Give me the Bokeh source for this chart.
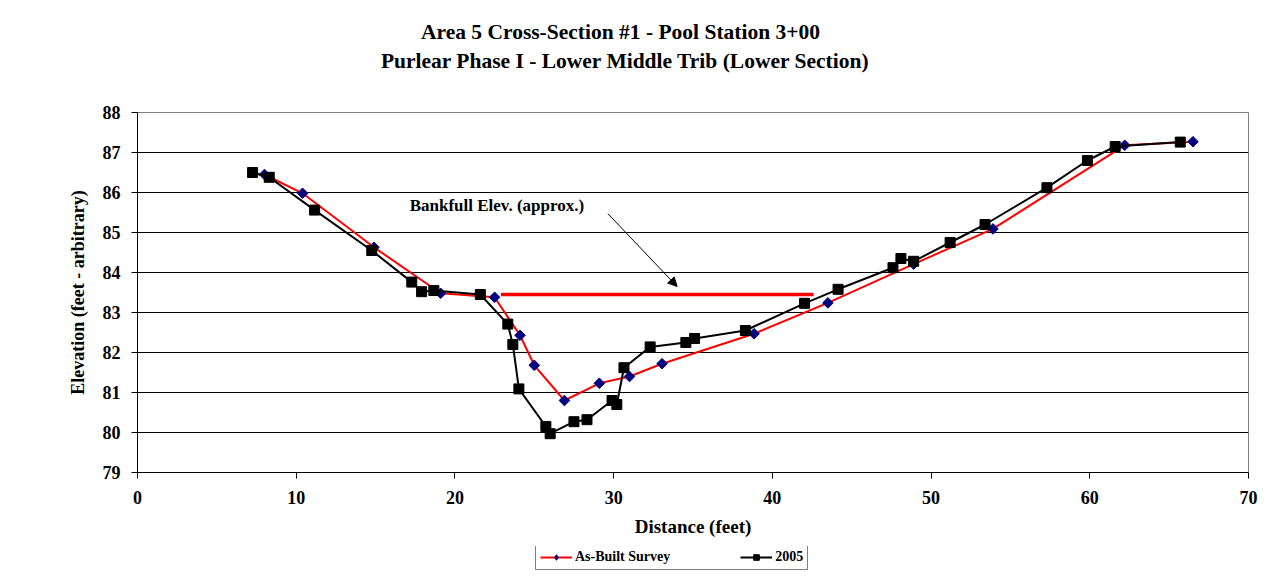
import math
from bokeh.plotting import figure
from bokeh.layouts import column
from bokeh.models import (FixedTicker, Range1d, Legend, LegendItem, Arrow,
                          NormalHead, Label)
from bokeh.embed import file_html
from bokeh.resources import INLINE

# ---------------- data ----------------
asbuilt_x = [8.0, 10.4, 14.9, 19.1, 22.5, 24.1, 25.0, 26.9, 29.1, 31.0, 33.05,
             38.85, 43.5, 48.9, 53.9, 62.2, 66.5]
asbuilt_y = [86.45, 85.98, 84.63, 83.48, 83.38, 82.43, 81.68, 80.8, 81.23, 81.4,
             81.72, 82.47, 83.24, 84.21, 85.09, 87.18, 87.27]

survey2005_x = [7.25, 8.3, 11.16, 14.76, 17.28, 17.9, 18.67, 21.6, 23.33, 23.65,
                24.03, 25.73, 26.0, 27.5, 28.32, 29.9, 30.2, 30.65, 32.3, 34.55,
                35.1, 38.3, 42.03, 44.14, 47.6, 48.1, 48.9, 51.2, 53.4, 57.3,
                59.85, 61.6, 65.7]
survey2005_y = [86.5, 86.38, 85.56, 84.55, 83.76, 83.52, 83.55, 83.45, 82.71, 82.2,
                81.09, 80.15, 79.97, 80.27, 80.32, 80.8, 80.7, 81.62, 82.14, 82.25,
                82.35, 82.55, 83.23, 83.58, 84.12, 84.35, 84.28, 84.75, 85.2, 86.12,
                86.8, 87.15, 87.26]

bankfull_x = [22.9, 42.6]
bankfull_y = [83.45, 83.45]

note_text = "Bankfull Elev. (approx.)"
note_pos = (17.15, 85.68)
arrow_start = (29.64, 85.47)
arrow_end = (34.0, 83.65)

x_ticks = [0, 10, 20, 30, 40, 50, 60, 70]
y_ticks = [79, 80, 81, 82, 83, 84, 85, 86, 87, 88]

title_lines = ["Area 5 Cross-Section #1 - Pool Station 3+00",
               "Purlear Phase I - Lower Middle Trib (Lower Section)"]
title_centers = [(620, 31), (625, 60)]   # pixel positions in the title strip

series_labels = ["As-Built Survey", "2005"]

FONT = "Liberation Serif"
W = 1261
TITLE_H = 80
MAIN_H = 466
LEGEND_H = 26
FRAME_L, FRAME_R = 137, 1248

# ---------------- title strip ----------------
pt = figure(width=W, height=TITLE_H, x_range=Range1d(FRAME_L, FRAME_R),
            y_range=Range1d(TITLE_H, 0),
            output_backend="svg", toolbar_location=None, title_location=None,
            x_axis_location=None, y_axis_location=None, min_border=0)
pt.outline_line_color = None
pt.grid.grid_line_color = None
for txt, (cx, cy) in zip(title_lines, title_centers):
    pt.add_layout(Label(x=cx, y=cy, text=txt, text_font=FONT, text_font_style="bold",
                        text_font_size="21.5px", text_color="black",
                        text_align="center", text_baseline="middle"))

# ---------------- main chart ----------------
p = figure(width=W, height=MAIN_H, x_range=Range1d(0, 70), y_range=Range1d(79, 88),
           output_backend="svg", toolbar_location=None, title_location=None,
           min_border_left=FRAME_L, min_border_right=W - FRAME_R,
           min_border_top=112 - TITLE_H, min_border_bottom=74)

p.background_fill_color = "white"
p.border_fill_color = "white"
p.outline_line_color = "#808080"
p.outline_line_width = 1

p.xgrid.grid_line_color = None
p.ygrid.grid_line_color = "black"
p.ygrid.grid_line_width = 1
p.ygrid.ticker = FixedTicker(ticks=y_ticks)

for ax in (p.xaxis[0], p.yaxis[0]):
    ax.axis_line_color = "black"
    ax.axis_line_width = 1
    ax.major_tick_line_color = "black"
    ax.major_tick_out = 6
    ax.major_tick_in = 0
    ax.minor_tick_line_color = None
    ax.major_label_text_font = FONT
    ax.major_label_text_font_style = "bold"
    ax.major_label_text_font_size = "18px"
    ax.major_label_text_color = "black"
    ax.axis_label_text_font = FONT
    ax.axis_label_text_font_style = "bold"
    ax.axis_label_text_color = "black"

p.xaxis.ticker = FixedTicker(ticks=x_ticks)
p.yaxis.ticker = FixedTicker(ticks=y_ticks)
p.xaxis.axis_label = "Distance (feet)"
p.yaxis.axis_label = "Elevation (feet - arbitrary)"
p.xaxis.axis_label_text_font_size = "19px"
p.yaxis.axis_label_text_font_size = "18px"
p.xaxis.major_label_standoff = 12
p.xaxis.axis_label_standoff = 9
p.yaxis.major_label_standoff = 11
p.yaxis.axis_label_standoff = 12

p.line(bankfull_x, bankfull_y, line_color="#FF0000", line_width=3.5)

p.line(asbuilt_x, asbuilt_y, line_color="#FF0000", line_width=2)
p.scatter(asbuilt_x, asbuilt_y, marker="square", angle=math.pi / 4,
          size=7.5, fill_color="#000080", line_color="#000080")

p.line(survey2005_x, survey2005_y, line_color="black", line_width=2)
p.scatter(survey2005_x, survey2005_y, marker="square", size=10,
          fill_color="black", line_color="black")

p.add_layout(Label(x=note_pos[0], y=note_pos[1], text=note_text,
                   text_font=FONT, text_font_style="bold", text_font_size="17px",
                   text_color="black", text_baseline="middle", text_align="left"))

p.add_layout(Arrow(x_start=arrow_start[0], y_start=arrow_start[1],
                   x_end=arrow_end[0], y_end=arrow_end[1],
                   line_color="black", line_width=1,
                   end=NormalHead(size=9, fill_color="black", line_color="black")))

# ---------------- legend strip ----------------
# the series are drawn again here, outside this strip's visible range, only so
# that the legend swatches have real renderers behind them
pl = figure(width=W, height=LEGEND_H, x_range=Range1d(0, 1), y_range=Range1d(0, 1),
            output_backend="svg", toolbar_location=None, title_location=None,
            x_axis_location=None, y_axis_location=None, min_border=0)
pl.outline_line_color = None
pl.grid.grid_line_color = None
lg_ab_line = pl.line(asbuilt_x, asbuilt_y, line_color="#FF0000", line_width=2)
lg_ab_pts = pl.scatter(asbuilt_x, asbuilt_y, marker="diamond", size=13,
                       fill_color="#000080", line_color="#000080")
lg_s5_line = pl.line(survey2005_x, survey2005_y, line_color="black", line_width=2)
lg_s5_pts = pl.scatter(survey2005_x, survey2005_y, marker="square", size=10,
                       fill_color="black", line_color="black")

legend = Legend(items=[LegendItem(label=series_labels[0], renderers=[lg_ab_line, lg_ab_pts]),
                       LegendItem(label=series_labels[1], renderers=[lg_s5_line, lg_s5_pts])],
                orientation="horizontal", location=(535 - FRAME_L, 2),
                label_text_font=FONT, label_text_font_style="bold",
                label_text_font_size="14px", label_text_color="black",
                glyph_width=32, glyph_height=14,
                label_standoff=3, spacing=70, padding=4, margin=0,
                border_line_color="black", border_line_width=1,
                background_fill_color="white", background_fill_alpha=1)
pl.add_layout(legend, "center")

layout = column(pt, p, pl, spacing=0)
open("out.html", "w").write(file_html(layout, INLINE))
